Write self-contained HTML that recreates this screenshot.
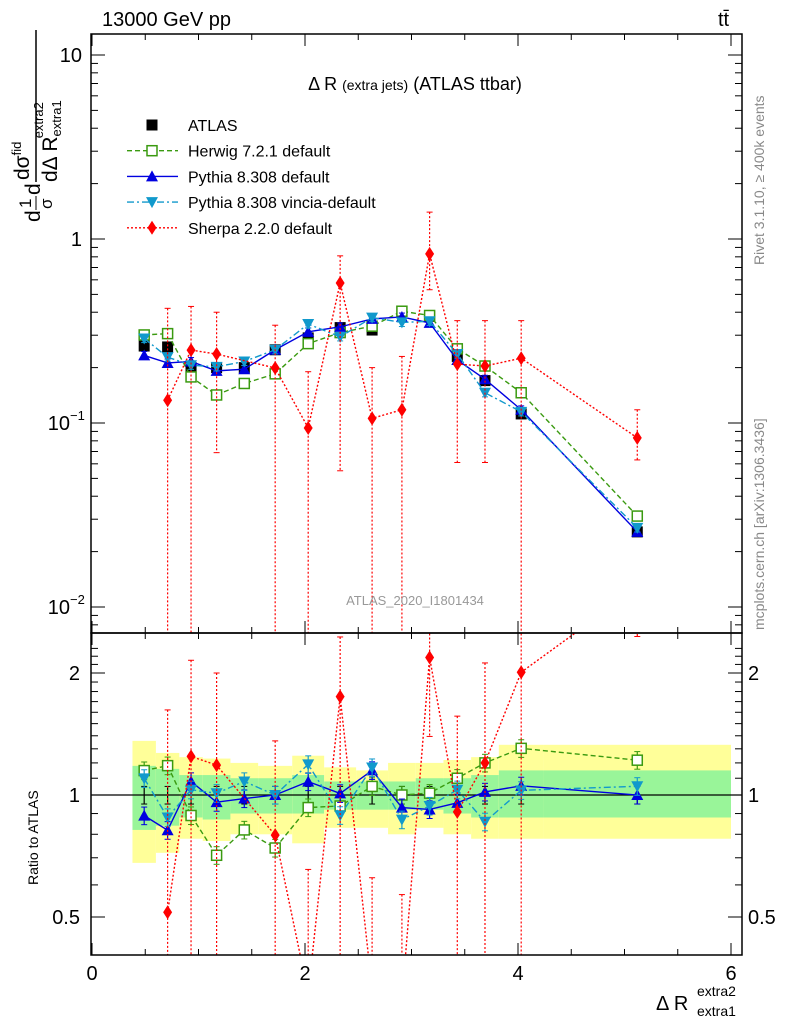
<!DOCTYPE html>
<html><head><meta charset="utf-8">
<style>
html,body{margin:0;padding:0;background:#fff;width:786px;height:1024px;overflow:hidden;}
svg{display:block;font-family:"Liberation Sans",sans-serif;overflow:hidden;}
</style></head>
<body>
<svg id="chart" width="786" height="1024" viewBox="0 0 786 1024" xmlns="http://www.w3.org/2000/svg">
<g id="bands"></g>
<g id="marks"></g>
<g id="axes"></g>
<text x="102" y="26" font-size="20">13000 GeV pp</text>
<text x="718" y="26" font-size="20">tt̄</text>
<text x="415" y="90" font-size="18" text-anchor="middle">Δ R <tspan font-size="14">(extra jets)</tspan> (ATLAS ttbar)</text>
<text x="415" y="605" font-size="13" fill="#999" text-anchor="middle">ATLAS_2020_I1801434</text>
<text transform="translate(764,265) rotate(-90)" font-size="14" fill="#888">Rivet 3.1.10, ≥ 400k events</text>
<text transform="translate(764,630) rotate(-90)" font-size="14" fill="#888">mcplots.cern.ch [arXiv:1306.3436]</text>
<g transform="translate(40,222) rotate(-90)">
<text x="0" y="0" font-size="21">d</text>
<text x="14" y="-9" font-size="17">1</text>
<line x1="12" y1="-4" x2="26" y2="-4" stroke="#000" stroke-width="1"/>
<text x="13" y="12" font-size="17">σ</text>
<text x="27" y="0" font-size="21">d</text>
<text x="42" y="-11" font-size="21">dσ<tspan font-size="13" dy="-8">fid</tspan></text>
<line x1="40" y1="-4" x2="192" y2="-4" stroke="#000" stroke-width="1.5"/>
<text x="40" y="17" font-size="21">dΔ R<tspan font-size="13" dy="4">extra1</tspan><tspan font-size="13" dx="-38" dy="-18">extra2</tspan></text>
</g>
<text transform="translate(38,885) rotate(-90)" font-size="14">Ratio to ATLAS</text>
<text x="656" y="1010" font-size="20">Δ R</text>
<text x="697" y="996" font-size="14">extra2</text>
<text x="697" y="1016" font-size="14">extra1</text>
<g id="legend"></g>
</svg>
<script>
const binCenters=[0.49,0.71,0.93,1.17,1.43,1.72,2.03,2.33,2.63,2.91,3.17,3.43,3.69,4.03,5.12];
const binEdges=[0.38,0.6,0.82,1.04,1.3,1.56,1.88,2.18,2.48,2.78,3.04,3.3,3.56,3.82,4.24,6.0];
const atlasVals=[0.262,0.259,0.2,0.2,0.2,0.25,0.29,0.33,0.32,0.405,0.38,0.23,0.17,0.112,0.0256];
const herwigVals=[0.301,0.306,0.178,0.142,0.164,0.185,0.270,0.310,0.336,0.405,0.384,0.253,0.204,0.146,0.0312];
const pythiaVals=[0.233,0.212,0.216,0.192,0.196,0.25,0.313,0.333,0.368,0.377,0.350,0.220,0.173,0.118,0.0256];
const vinciaVals=[0.288,0.228,0.206,0.202,0.216,0.25,0.345,0.294,0.374,0.352,0.357,0.237,0.146,0.115,0.0269];
const sherpaVals=[null,0.133,0.249,0.237,null,0.199,0.094,0.577,0.106,0.118,0.83,0.209,0.204,0.225,0.083];
const sherpaHi=[null,0.42,0.43,0.40,null,0.34,0.19,0.81,0.2,0.23,1.4,0.36,0.36,0.36,0.118];
const sherpaLo=[null,0.001,0.001,0.069,null,0.001,0.001,0.055,0.001,0.001,0.53,0.061,0.061,0.001,0.063];
const yellowHi=[1.36,1.27,1.24,1.23,1.2,1.18,1.25,1.17,1.15,1.2,1.2,1.22,1.24,1.33,1.33];
const yellowLo=[0.68,0.72,0.78,0.77,0.8,0.8,0.76,0.83,0.83,0.8,0.83,0.8,0.78,0.78,0.78];
const greenHi=[1.18,1.16,1.12,1.12,1.1,1.1,1.12,1.08,1.08,1.08,1.1,1.1,1.12,1.15,1.15];
const greenLo=[0.82,0.84,0.88,0.87,0.9,0.9,0.9,0.92,0.92,0.92,0.92,0.9,0.88,0.88,0.88];
const xTicks=[0,2,4,6];
const yTicks=[10,1,0.1,0.01];
const rTicks=[2,1,0.5];

const NS="http://www.w3.org/2000/svg";
const L=91,R=742,T=34,MB=633,RB=955;
const clamp=y=>Math.max(20,Math.min(1000,y));
const X=v=>92+v*106.5;
const Y=v=>clamp(423-184*(Math.log10(v)+1));
const RY=r=>clamp(795-122*Math.log2(r));
function mk(tag,attrs,parent){const e=document.createElementNS(NS,tag);for(const k in attrs)e.setAttribute(k,attrs[k]);parent.appendChild(e);return e;}
const svg=document.getElementById('chart');
const bands=document.getElementById('bands'),marks=document.getElementById('marks'),axes=document.getElementById('axes');
const defs=mk('defs',{},svg);
const c1=mk('clipPath',{id:'cm'},defs);mk('rect',{x:L,y:T,width:R-L,height:MB-T},c1);
const c2=mk('clipPath',{id:'cr'},defs);mk('rect',{x:L,y:MB,width:R-L,height:RB-MB},c2);
bands.setAttribute('clip-path','url(#cr)');
for(let i=0;i<binCenters.length;i++){
 const x0=X(binEdges[i]),x1=X(binEdges[i+1]);
 const y=mk('rect',{x:x0,y:RY(yellowHi[i]),width:x1-x0,height:RY(yellowLo[i])-RY(yellowHi[i]),fill:'#ffff99'},bands);
 
 
 const g=mk('rect',{x:x0,y:RY(greenHi[i]),width:x1-x0,height:RY(greenLo[i])-RY(greenHi[i]),fill:'#99f599'},bands);
 
 
}
const gm=mk('g',{'clip-path':'url(#cm)'},marks);
const gr=mk('g',{'clip-path':'url(#cr)'},marks);
mk('line',{x1:L,y1:RY(1),x2:R,y2:RY(1),stroke:'#000','stroke-width':1.3},gr);
function marker(type,x,y,color,parent){
 let e;
 if(type==='sq') e=mk('rect',{x:x-5.5,y:y-5.5,width:11,height:11,fill:'#000'},parent);
 else if(type==='osq') e=mk('rect',{x:x-5,y:y-5,width:10,height:10,fill:'#fff',stroke:color,'stroke-width':1.5},parent);
 else if(type==='tu') e=mk('polygon',{points:`${x},${y-6} ${x-6},${y+5} ${x+6},${y+5}`,fill:color},parent);
 else if(type==='td') e=mk('polygon',{points:`${x},${y+6} ${x-6},${y-5} ${x+6},${y-5}`,fill:color},parent);
 else e=mk('polygon',{points:`${x},${y-7} ${x-4.5},${y} ${x},${y+7} ${x+4.5},${y}`,fill:color},parent);
 return e;
}
function series(name,vals,color,dash,type,hi,lo){
 const pm=[],pr=[];
 vals.forEach((v,i)=>{if(v==null)return;pm.push([X(binCenters[i]),Y(v)]);pr.push([X(binCenters[i]),RY(v/atlasVals[i])]);});
 if(name!=='atlas'){
  const l1=mk('polyline',{points:pm.map(p=>p.join(',')).join(' '),fill:'none',stroke:color,'stroke-width':1.4,'stroke-dasharray':dash},gm);
  
  
  const l2=mk('polyline',{points:pr.map(p=>p.join(',')).join(' '),fill:'none',stroke:color,'stroke-width':1.4,'stroke-dasharray':dash},gr);
  
  
 }
 const dd=name==='sherpa'?'2,2':'';
 vals.forEach((v,i)=>{
  if(v==null)return;
  const x=X(binCenters[i]);
  const h=hi?hi[i]:v*1.05,lo_=lo?lo[i]:v*0.95;
  mk('line',{x1:x,y1:Y(h),x2:x,y2:Y(lo_),stroke:color,'stroke-width':1.2,'stroke-dasharray':dd},gm);
  mk('line',{x1:x,y1:RY(h/atlasVals[i]),x2:x,y2:RY(lo_/atlasVals[i]),stroke:color,'stroke-width':1.2,'stroke-dasharray':dd},gr);
  [Y(h),Y(lo_)].forEach(yy=>mk('line',{x1:x-3,y1:yy,x2:x+3,y2:yy,stroke:color,'stroke-width':1},gm));
  [RY(h/atlasVals[i]),RY(lo_/atlasVals[i])].forEach(yy=>mk('line',{x1:x-3,y1:yy,x2:x+3,y2:yy,stroke:color,'stroke-width':1},gr));
  const m=marker(type,x,Y(v),color,gm);
  
  
  if(name!=='atlas'){
   const m2=marker(type,x,RY(v/atlasVals[i]),color,gr);
   
   
  }
 });
}
series('atlas',atlasVals,'#000','','sq');
series('herwig',herwigVals,'#3a9a10','5,3','osq');
series('pythia',pythiaVals,'#0000e0','','tu');
series('vincia',vinciaVals,'#1199cc','7,3,2,3','td');
series('sherpa',sherpaVals,'#ff0000','2,2','dm',sherpaHi,sherpaLo);
mk('rect',{x:L,y:T,width:R-L,height:MB-T,fill:'none',stroke:'#000','stroke-width':1.5},axes);
mk('rect',{x:L,y:MB,width:R-L,height:RB-MB,fill:'none',stroke:'#000','stroke-width':1.5},axes);
for(let v=0;v<=6.01;v+=0.5){
 const x=X(v),maj=Math.abs(v-Math.round(v/2)*2)<0.01,len=maj?12:6;
 for(const yb of [MB,RB]) mk('line',{x1:x,y1:yb,x2:x,y2:yb-len,stroke:'#000','stroke-width':1},axes);
 for(const yt of [T,MB]) mk('line',{x1:x,y1:yt,x2:x,y2:yt+len,stroke:'#000','stroke-width':1},axes);
}
xTicks.forEach(v=>{const t=mk('text',{x:X(v),y:980,'font-size':20,'text-anchor':'middle'},axes);t.textContent=v;
 
 });
for(let d=-3;d<=1;d++){for(let m=1;m<10;m++){const v=m*Math.pow(10,d);const y=Y(v);if(y<T||y>MB)continue;const len=m===1?14:7;
 mk('line',{x1:L,y1:y,x2:L+len,y2:y,stroke:'#000','stroke-width':1},axes);
 mk('line',{x1:R,y1:y,x2:R-len,y2:y,stroke:'#000','stroke-width':1},axes);}}
const ylab=['10','1'];
yTicks.forEach((v,i)=>{let t;
 if(i<2){t=mk('text',{x:82,y:Y(v)+7,'font-size':20,'text-anchor':'end'},axes);t.textContent=ylab[i];}
 else{t=mk('text',{x:70,y:Y(v)+7,'font-size':20,'text-anchor':'end'},axes);t.textContent='10';
  const s=mk('text',{x:70,y:Y(v)-3,'font-size':13},axes);s.textContent=i===2?'−1':'−2';}
 
 });
const rMinor=[0.4,0.5,0.6,0.7,0.8,0.9,1,1.1,1.2,1.3,1.4,1.5,1.6,1.7,1.8,1.9,2,2.1,2.2,2.3];
rMinor.forEach(r=>{const y=RY(r);if(y<MB||y>RB)return;const maj=rTicks.includes(r),len=maj?14:7;
 mk('line',{x1:L,y1:y,x2:L+len,y2:y,stroke:'#000','stroke-width':1},axes);
 mk('line',{x1:R,y1:y,x2:R-len,y2:y,stroke:'#000','stroke-width':1},axes);});
rTicks.forEach(r=>{const t=mk('text',{x:80,y:RY(r)+7,'font-size':20,'text-anchor':'end'},axes);t.textContent=r;
 
 
 const t2=mk('text',{x:748,y:RY(r)+7,'font-size':20},axes);t2.textContent=r;
 
 });
const legNames=['ATLAS','Herwig 7.2.1 default','Pythia 8.308 default','Pythia 8.308 vincia-default','Sherpa 2.2.0 default'];
const legSty=[['#000','','sq'],['#3a9a10','5,3','osq'],['#0000e0','','tu'],['#1199cc','7,3,2,3','td'],['#ff0000','2,2','dm']];
const lg=document.getElementById('legend');
legNames.forEach((n,i)=>{const y=125+i*25.7;
 const g=mk('g',{},lg);
 
 
 if(i>0) mk('line',{x1:127,y1:y,x2:178,y2:y,stroke:legSty[i][0],'stroke-width':1.4,'stroke-dasharray':legSty[i][1]},g);
 marker(legSty[i][2],152,y,legSty[i][0],g);
 const t=mk('text',{x:188,y:y+6,'font-size':16},g);t.textContent=n;});
</script>
</body></html>
